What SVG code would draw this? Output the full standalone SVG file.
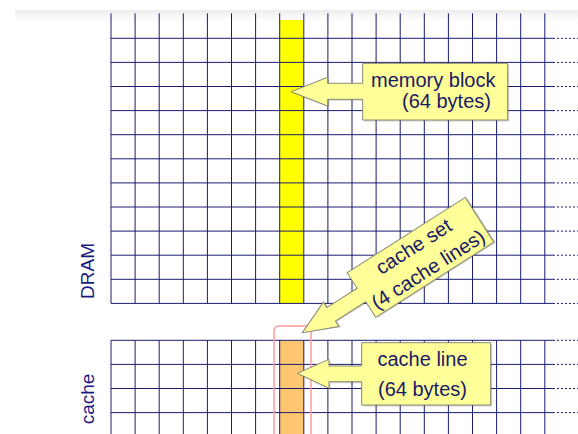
<svg xmlns="http://www.w3.org/2000/svg" width="578" height="434" viewBox="0 0 578 434">
<defs>
<linearGradient id="topband" x1="0" y1="0" x2="0" y2="1">
<stop offset="0" stop-color="#ececec"/>
<stop offset="1" stop-color="#ffffff"/>
</linearGradient>
<style>
.g{stroke:#1a1a70;stroke-width:1;fill:none}
.dot{stroke:#1a1a70;stroke-width:1;stroke-dasharray:2,2;fill:none}
.call{fill:#ffff99;stroke:#8a8a70;stroke-width:1}
.shadow{fill:#000;opacity:0.18}
.t{font-family:"Liberation Sans",Arial,sans-serif;font-size:20px;fill:#1a1a66}
.lbl{font-family:"Liberation Sans",Arial,sans-serif;font-size:19px;fill:#1a1a80}
</style>
</defs>
<rect x="0" y="0" width="578" height="434" fill="#ffffff"/>
<rect x="15" y="10" width="563" height="11" fill="url(#topband)"/>

<g id="dram">
<rect x="279.7" y="20" width="24.1" height="283.4" fill="#ffff00"/>
<g id="dram-grid">
<path class="g" d="M111,13.3V303.4M135.1,13.3V303.4M159.2,13.3V303.4M183.3,13.3V303.4M207.4,13.3V303.4M231.5,13.3V303.4M255.6,13.3V303.4M279.7,13.3V303.4M303.8,13.3V303.4M327.9,13.3V303.4M352,13.3V303.4M376.1,13.3V303.4M400.2,13.3V303.4M424.3,13.3V303.4M448.4,13.3V303.4M472.5,13.3V303.4M496.6,13.3V303.4M520.7,13.3V303.4M544.8,13.3V303.4"/>
<path class="g" d="M111,38.3H553M111,62.4H553M111,86.5H553M111,110.6H553M111,134.7H553M111,158.8H553M111,182.9H553M111,207H553M111,231.1H553M111,255.2H553M111,279.3H553M111,303.4H553"/>
<path class="dot" d="M553,38.3H578M553,62.4H578M553,86.5H578M553,110.6H578M553,134.7H578M553,158.8H578M553,182.9H578M553,207H578M553,231.1H578M553,255.2H578M553,279.3H578M553,303.4H578"/>
</g>
<text class="lbl" transform="translate(94,271) rotate(-90)" text-anchor="middle">DRAM</text>
</g>

<g id="cache">
<rect x="279.7" y="340.3" width="24.1" height="94" fill="#ffc672"/>
<g id="cache-grid">
<path class="g" d="M111,340.3V434M135.1,340.3V434M159.2,340.3V434M183.3,340.3V434M207.4,340.3V434M231.5,340.3V434M255.6,340.3V434M279.7,340.3V434M303.8,340.3V434M327.9,340.3V434M352,340.3V434M376.1,340.3V434M400.2,340.3V434M424.3,340.3V434M448.4,340.3V434M472.5,340.3V434M496.6,340.3V434M520.7,340.3V434M544.8,340.3V434"/>
<path class="g" d="M111,340.3H553M111,364.4H553M111,388.5H553M111,412.6H553"/>
<path class="dot" d="M553,340.3H578M553,364.4H578M553,388.5H578M553,412.6H578"/>
</g>
<rect id="cache-set-frame" x="274" y="326" width="37" height="130" rx="5" ry="5" fill="none" stroke="#ff9a9a" stroke-width="1.5"/>
<text class="lbl" transform="translate(94,399) rotate(-90)" text-anchor="middle">cache</text>
</g>

<g id="connectors"></g>

<g id="memory-block-callout">
<path class="shadow" transform="translate(1.5,1.5)" d="M362.7,63.3H507.7V120H362.7V99.3H327.7V106L291,91.7L327.7,77.3V83.3H362.7Z"/>
<path class="call" d="M362.7,63.3H507.7V120H362.7V99.3H327.7V106L291,91.7L327.7,77.3V83.3H362.7Z"/>
<text class="t" x="371" y="87">memory block</text>
<text class="t" x="402" y="108">(64 bytes)</text>
</g>

<g id="cache-set-callout" transform="translate(420.5,257.4) rotate(-32.5)">
<path class="shadow" transform="translate(1.5,1.5)" d="M-70,-26.5H70V26.5H-70V8H-106V14.5L-140,0L-106,-14.5V-8H-70Z"/>
<path class="call" d="M-70,-26.5H70V26.5H-70V8H-106V14.5L-140,0L-106,-14.5V-8H-70Z"/>
<text class="t" x="0" y="-6" text-anchor="middle">cache set</text>
<text class="t" x="0" y="21" text-anchor="middle">(4 cache lines)</text>
</g>

<g id="cache-line-callout">
<path class="shadow" transform="translate(1.5,1.5)" d="M361.7,342.7H490.7V405H361.7V381.7H329V388.3L297.3,373.3L329,359.3V366H361.7Z"/>
<path class="call" d="M361.7,342.7H490.7V405H361.7V381.7H329V388.3L297.3,373.3L329,359.3V366H361.7Z"/>
<text class="t" x="422.5" y="365.7" text-anchor="middle">cache line</text>
<text class="t" x="422.5" y="396" text-anchor="middle">(64 bytes)</text>
</g>
</svg>
